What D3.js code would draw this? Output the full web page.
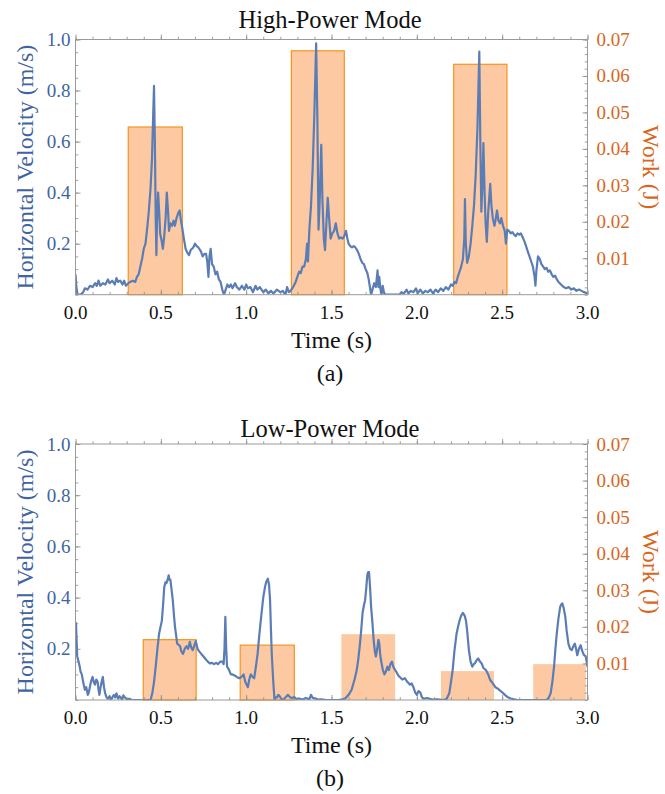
<!DOCTYPE html>
<html>
<head>
<meta charset="utf-8">
<script src="https://cdnjs.cloudflare.com/ajax/libs/d3/7.8.5/d3.min.js"></script>
<style>
  body { margin: 0; background: #fff; }
</style>
</head>
<body>
<svg id="chart" width="665" height="794" font-family="Liberation Serif"></svg>
<script>
// ---- data ----
var xTicks = [0, 0.5, 1.0, 1.5, 2.0, 2.5, 3.0];
var velTicks = [0.2, 0.4, 0.6, 0.8, 1.0];
var workTicks = [0.01, 0.02, 0.03, 0.04, 0.05, 0.06, 0.07];

// high-power mode: horizontal velocity [t (s), v (m/s)]
var highVelocity = [
  [0.000,0.08],[0.005,0.03],[0.012,0.0],[0.03,0.0],[0.045,0.01],[0.055,0.025],[0.07,0.02],[0.085,0.035],
  [0.1,0.03],[0.115,0.045],[0.125,0.035],[0.135,0.055],[0.145,0.035],[0.16,0.045],[0.175,0.04],[0.19,0.06],
  [0.2,0.045],[0.215,0.055],[0.23,0.04],[0.24,0.065],[0.25,0.05],[0.262,0.055],[0.275,0.04],[0.285,0.055],
  [0.295,0.035],[0.31,0.045],[0.32,0.05],[0.335,0.055],[0.35,0.05],[0.36,0.07],[0.37,0.08],[0.38,0.11],
  [0.39,0.14],[0.40,0.18],[0.41,0.2],[0.42,0.26],[0.43,0.33],[0.44,0.42],[0.448,0.53],[0.455,0.7],
  [0.46,0.818],[0.465,0.6],[0.47,0.3],[0.474,0.155],[0.478,0.3],[0.484,0.40],[0.49,0.33],[0.496,0.24],
  [0.505,0.21],[0.512,0.18],[0.52,0.23],[0.528,0.30],[0.535,0.40],[0.542,0.33],[0.548,0.25],[0.556,0.28],
  [0.565,0.27],[0.575,0.29],[0.582,0.27],[0.592,0.30],[0.602,0.32],[0.61,0.33],[0.618,0.29],[0.626,0.26],
  [0.635,0.22],[0.645,0.18],[0.655,0.165],[0.665,0.155],[0.675,0.175],[0.69,0.185],[0.70,0.20],[0.71,0.19],
  [0.72,0.185],[0.735,0.17],[0.745,0.15],[0.755,0.16],[0.765,0.16],[0.772,0.13],[0.779,0.07],[0.785,0.15],
  [0.792,0.18],[0.80,0.12],[0.81,0.11],[0.82,0.08],[0.83,0.09],[0.84,0.06],[0.85,0.05],[0.86,0.02],
  [0.87,0.0],[0.88,0.02],[0.89,0.04],[0.90,0.03],[0.91,0.04],[0.92,0.025],[0.935,0.045],[0.945,0.03],
  [0.96,0.02],[0.975,0.035],[0.99,0.02],[1.0,0.04],[1.01,0.025],[1.025,0.03],[1.04,0.01],[1.055,0.035],
  [1.065,0.02],[1.08,0.03],[1.1,0.01],[1.115,0.02],[1.13,0.005],[1.145,0.015],[1.16,0.005],[1.18,0.02],
  [1.2,0.01],[1.215,0.015],[1.23,0.0],[1.24,0.03],[1.25,0.01],[1.26,0.015],[1.275,0.03],[1.29,0.05],
  [1.30,0.07],[1.31,0.09],[1.32,0.085],[1.33,0.11],[1.34,0.11],[1.35,0.14],[1.357,0.2],[1.362,0.13],
  [1.37,0.25],[1.38,0.35],[1.39,0.5],[1.40,0.72],[1.41,0.985],[1.417,0.7],[1.424,0.255],[1.43,0.35],
  [1.44,0.587],[1.447,0.37],[1.455,0.22],[1.462,0.175],[1.47,0.28],[1.478,0.38],[1.486,0.3],[1.495,0.22],
  [1.505,0.24],[1.515,0.25],[1.525,0.28],[1.535,0.24],[1.545,0.22],[1.555,0.225],[1.565,0.22],[1.575,0.23],
  [1.585,0.25],[1.593,0.22],[1.60,0.20],[1.61,0.19],[1.62,0.185],[1.63,0.19],[1.64,0.185],[1.65,0.175],
  [1.66,0.16],[1.67,0.14],[1.68,0.125],[1.69,0.12],[1.70,0.10],[1.71,0.085],[1.718,0.06],[1.725,0.03],
  [1.732,0.0],[1.74,0.02],[1.75,0.045],[1.76,0.03],[1.77,0.095],[1.775,0.03],[1.78,0.07],[1.787,0.02],
  [1.793,0.0],[1.80,0.035],[1.807,0.01],[1.815,0.0],[1.9,0.0],[1.91,0.01],[1.925,0.005],[1.94,0.02],
  [1.95,0.005],[1.965,0.015],[1.98,0.01],[1.995,0.025],[2.005,0.005],[2.02,0.02],[2.035,0.005],[2.05,0.015],
  [2.065,0.01],[2.08,0.02],[2.095,0.005],[2.11,0.02],[2.125,0.01],[2.14,0.025],[2.155,0.015],[2.17,0.03],
  [2.185,0.02],[2.2,0.04],[2.21,0.035],[2.22,0.05],[2.23,0.045],[2.24,0.07],[2.25,0.09],[2.26,0.11],
  [2.27,0.14],[2.278,0.22],[2.282,0.375],[2.287,0.2],[2.295,0.125],[2.305,0.15],[2.315,0.2],[2.325,0.27],
  [2.335,0.35],[2.345,0.47],[2.355,0.65],[2.366,0.953],[2.372,0.6],[2.378,0.325],[2.385,0.45],[2.39,0.594],
  [2.397,0.4],[2.403,0.28],[2.41,0.207],[2.418,0.32],[2.43,0.434],[2.437,0.35],[2.445,0.3],[2.455,0.27],
  [2.463,0.3],[2.47,0.33],[2.478,0.29],[2.487,0.28],[2.495,0.3],[2.505,0.27],[2.515,0.25],[2.522,0.2],
  [2.53,0.255],[2.54,0.25],[2.55,0.24],[2.56,0.245],[2.57,0.235],[2.58,0.23],[2.59,0.24],[2.6,0.235],
  [2.61,0.24],[2.62,0.225],[2.63,0.21],[2.64,0.19],[2.65,0.17],[2.66,0.15],[2.67,0.13],[2.68,0.11],
  [2.69,0.07],[2.695,0.035],[2.70,0.09],[2.71,0.15],[2.72,0.14],[2.73,0.12],[2.74,0.11],[2.75,0.1],
  [2.76,0.105],[2.77,0.09],[2.78,0.095],[2.79,0.08],[2.80,0.07],[2.81,0.075],[2.82,0.06],[2.83,0.05],
  [2.845,0.04],[2.86,0.03],[2.875,0.025],[2.89,0.03],[2.905,0.02],[2.92,0.025],[2.935,0.015],[2.95,0.02],
  [2.965,0.015],[2.98,0.01],[3.0,0.005]
];
// high-power mode: work per stroke
var highWorkStart = [0.309, 1.265, 2.216];
var highWorkEnd = [0.626, 1.575, 2.528];
var highWork = [0.046, 0.0669, 0.0632];

// low-power mode: horizontal velocity [t (s), v (m/s)]
var lowVelocity = [
  [0.0,0.26],[0.003,0.30],[0.01,0.17],[0.018,0.15],[0.025,0.13],[0.03,0.11],[0.037,0.10],[0.045,0.07],
  [0.055,0.04],[0.063,0.05],[0.072,0.02],[0.078,0.03],[0.084,0.05],[0.09,0.07],[0.1,0.09],[0.107,0.07],
  [0.114,0.06],[0.122,0.08],[0.13,0.07],[0.135,0.04],[0.14,0.02],[0.147,0.05],[0.153,0.07],[0.16,0.09],
  [0.167,0.05],[0.174,0.026],[0.182,0.01],[0.19,0.005],[0.2,0.015],[0.208,0.0],[0.216,0.01],[0.225,0.02],
  [0.233,0.01],[0.24,0.026],[0.25,0.005],[0.258,0.015],[0.265,0.01],[0.273,0.0],[0.28,0.018],[0.29,0.01],
  [0.3,0.003],[0.315,0.005],[0.33,0.0],[0.44,0.0],[0.45,0.026],[0.46,0.07],[0.47,0.13],[0.48,0.2],
  [0.49,0.26],[0.506,0.31],[0.513,0.37],[0.52,0.44],[0.527,0.46],[0.533,0.457],[0.54,0.47],[0.546,0.487],
  [0.551,0.47],[0.556,0.47],[0.563,0.43],[0.57,0.39],[0.577,0.33],[0.583,0.286],[0.59,0.25],[0.596,0.22],
  [0.605,0.215],[0.613,0.21],[0.62,0.19],[0.63,0.18],[0.64,0.2],[0.65,0.21],[0.66,0.2],[0.67,0.227],
  [0.678,0.205],[0.687,0.195],[0.695,0.21],[0.705,0.23],[0.715,0.2],[0.725,0.19],[0.737,0.18],[0.75,0.17],
  [0.762,0.16],[0.775,0.15],[0.787,0.143],[0.8,0.145],[0.812,0.14],[0.824,0.145],[0.835,0.14],[0.848,0.15],
  [0.86,0.15],[0.868,0.14],[0.873,0.2],[0.878,0.325],[0.883,0.2],[0.888,0.13],[0.898,0.12],[0.91,0.10],
  [0.92,0.1],[0.935,0.095],[0.945,0.09],[0.96,0.085],[0.972,0.09],[0.985,0.10],[0.995,0.07],[1.01,0.05],
  [1.018,0.08],[1.027,0.10],[1.037,0.09],[1.047,0.085],[1.057,0.13],[1.067,0.18],[1.075,0.24],[1.084,0.30],
  [1.092,0.35],[1.10,0.40],[1.11,0.44],[1.117,0.46],[1.127,0.474],[1.134,0.45],[1.14,0.39],[1.145,0.28],
  [1.15,0.18],[1.158,0.08],[1.166,0.0],[1.172,0.01],[1.18,0.01],[1.188,0.02],[1.196,0.015],[1.205,0.005],
  [1.215,0.0],[1.23,0.01],[1.245,0.02],[1.258,0.01],[1.27,0.008],[1.282,0.012],[1.295,0.003],[1.31,0.006],
  [1.33,0.002],[1.35,0.008],[1.37,0.003],[1.38,0.02],[1.39,0.008],[1.407,0.006],[1.42,0.002],[1.44,0.003],
  [1.47,0.0],[1.54,0.0],[1.565,0.003],[1.58,0.006],[1.6,0.02],[1.618,0.04],[1.635,0.08],[1.648,0.117],
  [1.657,0.16],[1.667,0.22],[1.675,0.28],[1.682,0.34],[1.69,0.37],[1.697,0.39],[1.704,0.44],[1.71,0.49],
  [1.715,0.50],[1.72,0.50],[1.726,0.44],[1.732,0.364],[1.74,0.3],[1.747,0.234],[1.754,0.19],[1.76,0.17],
  [1.768,0.2],[1.775,0.235],[1.78,0.22],[1.785,0.18],[1.79,0.156],[1.8,0.12],[1.81,0.10],[1.818,0.11],
  [1.828,0.13],[1.836,0.117],[1.845,0.14],[1.854,0.15],[1.862,0.13],[1.87,0.12],[1.88,0.11],[1.89,0.097],
  [1.9,0.09],[1.915,0.08],[1.93,0.085],[1.945,0.07],[1.96,0.06],[1.97,0.065],[1.98,0.05],[1.99,0.03],
  [2.0,0.02],[2.01,0.035],[2.02,0.03],[2.03,0.01],[2.04,0.005],[2.06,0.008],[2.09,0.002],[2.12,0.003],
  [2.16,0.0],[2.175,0.005],[2.19,0.026],[2.2,0.07],[2.21,0.117],[2.22,0.19],[2.233,0.26],[2.243,0.29],
  [2.25,0.31],[2.26,0.33],[2.27,0.34],[2.28,0.33],[2.288,0.31],[2.295,0.27],[2.305,0.195],[2.315,0.15],
  [2.325,0.13],[2.333,0.14],[2.34,0.143],[2.35,0.155],[2.36,0.162],[2.37,0.15],[2.38,0.143],[2.39,0.125],
  [2.405,0.117],[2.418,0.1],[2.43,0.078],[2.445,0.065],[2.46,0.05],[2.473,0.045],[2.486,0.038],[2.5,0.03],
  [2.516,0.02],[2.53,0.012],[2.55,0.006],[2.57,0.003],[2.586,0.0],[2.76,0.0],[2.772,0.008],[2.784,0.026],
  [2.794,0.07],[2.804,0.13],[2.812,0.2],[2.82,0.26],[2.83,0.32],[2.84,0.364],[2.848,0.375],[2.853,0.377],
  [2.86,0.36],[2.87,0.325],[2.878,0.27],[2.888,0.22],[2.898,0.2],[2.908,0.195],[2.917,0.21],[2.926,0.22],
  [2.933,0.2],[2.94,0.175],[2.95,0.2],[2.96,0.214],[2.97,0.19],[2.98,0.175],[2.99,0.17],[3.0,0.13]
];
// low-power mode: work per stroke
var lowWorkStart = [0.397, 0.965, 1.558, 2.141, 2.682];
var lowWorkEnd = [0.707, 1.282, 1.873, 2.452, 2.99];
var lowWork = [0.0165, 0.0150, 0.0180, 0.0079, 0.0098];

// ---- drawing ----
var blue = '#5b7db6';
var blueText = '#3f64a3';
var orangeText = '#d9661c';
var barFill = '#fcc9a2';
var barEdge = '#f7941e';
var frameColor = '#999';

var svg = d3.select('#chart');

// every label goes through here so the serif face is set on the element itself
function label(sel, size, color){
  return sel.attr('font-family', 'Liberation Serif')
    .attr('font-size', size)
    .attr('fill', color);
}

function drawPanel(opt){
  var left = 75.5, right = 587.5;
  var top = opt.top, bottom = opt.bottom;
  var g = svg.append('g');

  var x = d3.scaleLinear().domain([0, 3]).range([left, right]);
  var y = d3.scaleLinear().domain([0, 1]).range([bottom, top]);
  var yw = d3.scaleLinear().domain([0, 0.07]).range([bottom, top]);

  g.append('defs').append('clipPath').attr('id', opt.id + '-clip')
    .append('rect').attr('x', left).attr('y', top).attr('width', right - left).attr('height', bottom - top);

  // work bars
  var bars = opt.work.map(function(w, i){
    return {x0: opt.start[i], x1: opt.end[i], w: w, edged: opt.edged(i)};
  });
  g.selectAll('rect.bar').data(bars).enter().append('rect')
    .attr('class', 'bar')
    .attr('x', function(d){ return x(d.x0); })
    .attr('width', function(d){ return x(d.x1) - x(d.x0); })
    .attr('y', function(d){ return yw(d.w); })
    .attr('height', function(d){ return bottom - yw(d.w); })
    .attr('fill', barFill)
    .attr('stroke', function(d){ return d.edged ? barEdge : 'none'; })
    .attr('stroke-width', 1.2);

  // velocity curve
  var line = d3.line().x(function(d){ return x(d[0]); }).y(function(d){ return y(d[1]); });
  g.append('path').datum(opt.velocity)
    .attr('d', line)
    .attr('fill', 'none')
    .attr('stroke', blue)
    .attr('stroke-width', 2.2)
    .attr('stroke-linejoin', 'round')
    .attr('clip-path', 'url(#' + opt.id + '-clip)');

  // ticks (inward, frame style)
  function tickAxis(axis, transform){
    var a = g.append('g').attr('transform', transform).call(axis);
    a.select('.domain').remove();
    a.selectAll('text').remove();
    a.selectAll('line').attr('stroke', '#888').attr('stroke-width', 0.8);
    return a;
  }
  var minorX = d3.range(0, 3.001, 0.1), minorY = d3.range(0, 1.001, 0.05), minorW = d3.range(0, 0.0701, 0.002);
  [['b', bottom], ['t', top]].forEach(function(s){
    var mk = s[0] === 'b' ? d3.axisBottom : d3.axisTop;
    var sgn = s[0] === 'b' ? -1 : 1;
    tickAxis(mk(x).tickValues(minorX).tickSize(2.8 * sgn), 'translate(0,' + s[1] + ')');
    tickAxis(mk(x).tickValues(xTicks).tickSize(5 * sgn), 'translate(0,' + s[1] + ')');
  });
  tickAxis(d3.axisLeft(y).tickValues(minorY).tickSize(-2.8), 'translate(' + left + ',0)');
  tickAxis(d3.axisLeft(y).tickValues(velTicks).tickSize(-5), 'translate(' + left + ',0)');
  tickAxis(d3.axisRight(yw).tickValues(minorW).tickSize(-2.8), 'translate(' + right + ',0)');
  tickAxis(d3.axisRight(yw).tickValues(workTicks).tickSize(-5), 'translate(' + right + ',0)');

  // frame
  g.append('rect').attr('x', left).attr('y', top).attr('width', right - left).attr('height', bottom - top)
    .attr('fill', 'none').attr('stroke', frameColor).attr('stroke-width', 1);

  // tick labels
  label(g.selectAll('text.xl').data(xTicks).enter().append('text'), 19, '#111')
    .attr('x', function(d){ return x(d); }).attr('y', bottom + 24)
    .attr('text-anchor', 'middle')
    .text(d3.format('.1f'));
  label(g.selectAll('text.yl').data(velTicks).enter().append('text'), 19, blueText)
    .attr('x', left - 5).attr('y', function(d){ return y(d) + 6.5; })
    .attr('text-anchor', 'end')
    .text(d3.format('.1f'));
  label(g.selectAll('text.wl').data(workTicks).enter().append('text'), 19, orangeText)
    .attr('x', right + 9).attr('y', function(d){ return yw(d) + 6.5; })
    .attr('text-anchor', 'start')
    .text(d3.format('.2f'));

  // titles
  label(g.append('text'), 24.5, '#111').attr('x', 330).attr('y', opt.titleY)
    .attr('text-anchor', 'middle').text(opt.title);
  label(g.append('text'), 24, '#111').attr('x', (left + right) / 2).attr('y', bottom + 53)
    .attr('text-anchor', 'middle').text('Time (s)');
  label(g.append('text'), 24, '#111').attr('x', 330).attr('y', bottom + 86)
    .attr('text-anchor', 'middle').text(opt.tag);
  var mid = (top + bottom) / 2;
  label(g.append('text'), 24, blueText).attr('transform', 'translate(33,' + mid + ') rotate(-90)')
    .attr('text-anchor', 'middle').text('Horizontal Velocity (m/s)');
  label(g.append('text'), 24, orangeText).attr('transform', 'translate(643,' + mid + ') rotate(90)')
    .attr('text-anchor', 'middle').text('Work (J)');
}

drawPanel({
  id: 'high', top: 39.5, bottom: 294.7, titleY: 28, title: 'High-Power Mode', tag: '(a)',
  velocity: highVelocity, start: highWorkStart, end: highWorkEnd, work: highWork,
  edged: function(i){ return true; }
});
drawPanel({
  id: 'low', top: 444, bottom: 700, titleY: 437, title: 'Low-Power Mode', tag: '(b)',
  velocity: lowVelocity, start: lowWorkStart, end: lowWorkEnd, work: lowWork,
  edged: function(i){ return i < 2; }
});
</script>
</body>
</html>
